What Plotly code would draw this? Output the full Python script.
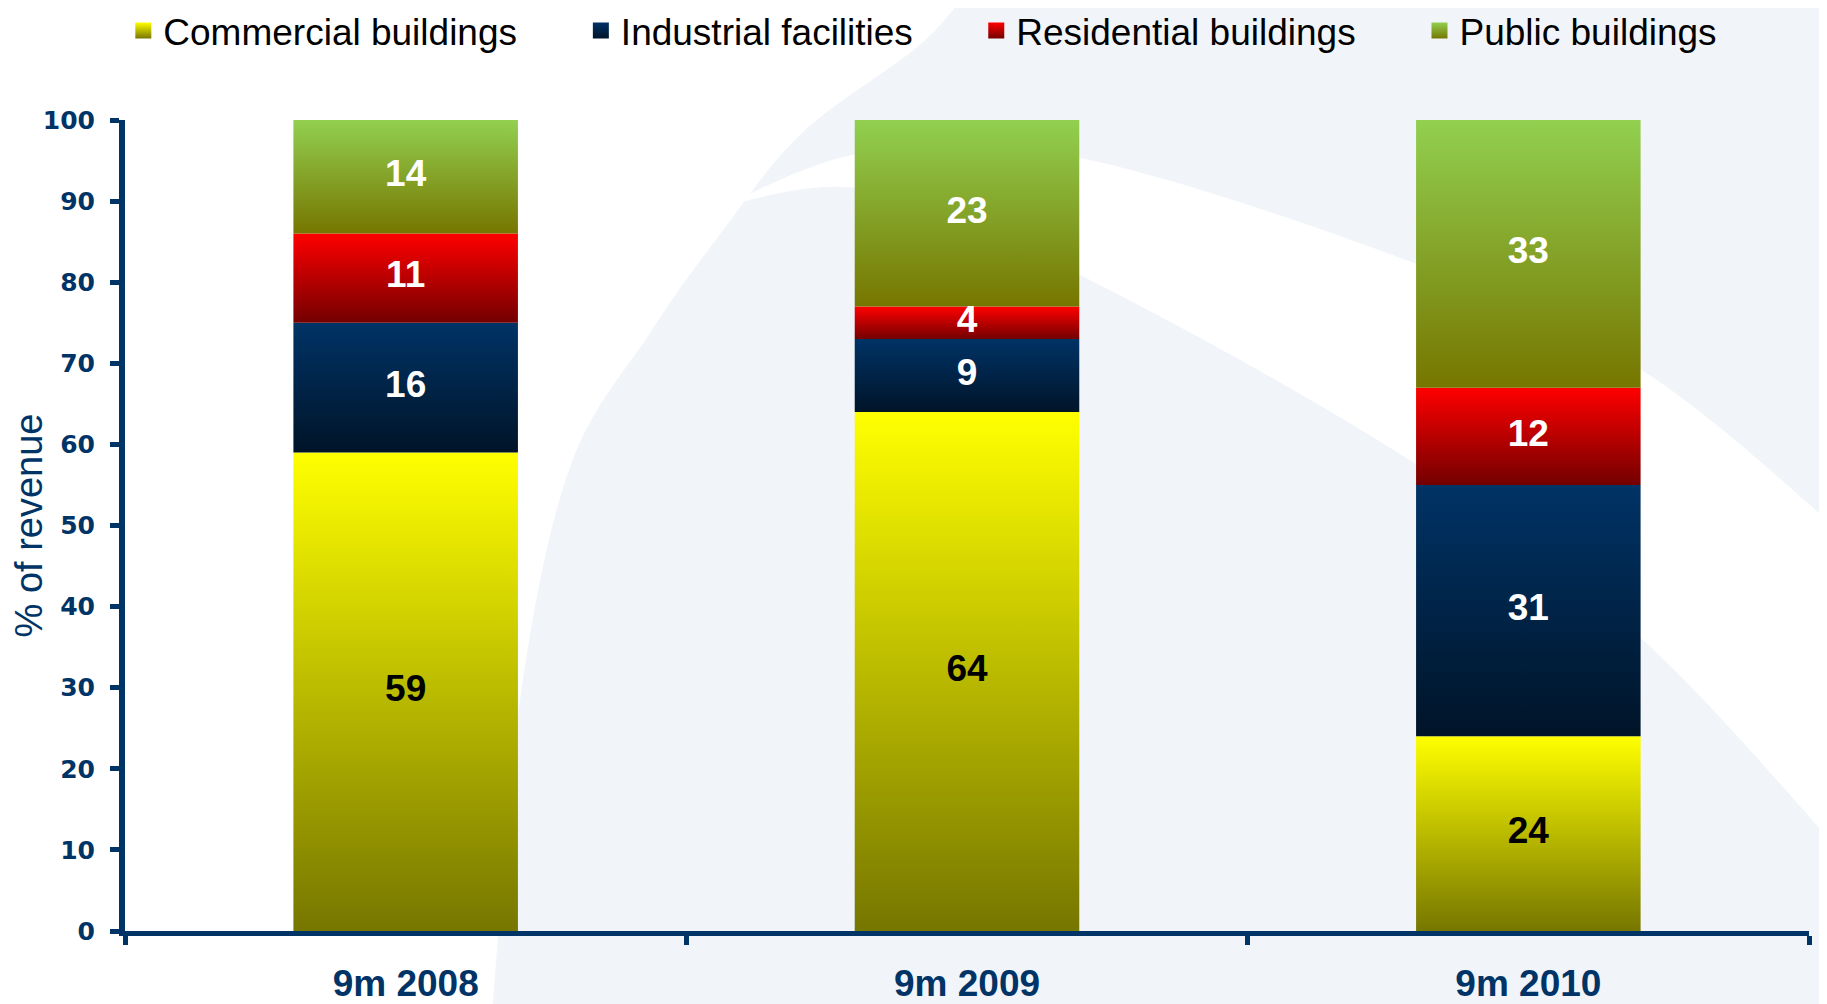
import plotly.graph_objects as go

categories = ["9m 2008", "9m 2009", "9m 2010"]
series_names = ["Commercial buildings", "Industrial facilities", "Residential buildings", "Public buildings"]
commercial = [59, 64, 24]
industrial = [16, 9, 31]
residential = [11, 4, 12]
public = [14, 23, 33]
y_ticks = list(range(0, 101, 10))

series_values = [commercial, industrial, residential, public]
# gradient colours: (bottom, top)
series_grad = [("#767600", "#ffff00"), ("#001428", "#003366"), ("#730000", "#ff0000"), ("#767600", "#92d050")]
label_colors = ["#000000", "#ffffff", "#ffffff", "#ffffff"]

NAVY = "#003366"
BAR_W = 0.4

fig = go.Figure()

# stacked bars drawn as gradient-filled polygons on a numeric axis
bases = [0] * len(categories)
label_x, label_y, label_t, label_c = [], [], [], []
for s, (name, vals) in enumerate(zip(series_names, series_values)):
    bot, top = series_grad[s]
    for i, v in enumerate(vals):
        b = bases[i]
        t = b + v
        fig.add_trace(go.Scatter(
            x=[i - BAR_W / 2, i + BAR_W / 2, i + BAR_W / 2, i - BAR_W / 2, i - BAR_W / 2],
            y=[b, b, t, t, b],
            mode="lines", fill="toself", line=dict(width=0),
            fillgradient=dict(type="vertical", colorscale=[[0, bot], [1, top]]),
            showlegend=False, hoverinfo="skip", xaxis="x", yaxis="y"))
        label_x.append(i)
        label_y.append(b + v / 2)
        label_t.append(str(v))
        label_c.append(label_colors[s])
        bases[i] = t

fig.add_trace(go.Scatter(
    x=label_x, y=label_y, text=label_t, mode="text", xaxis="x2", yaxis="y",
    textfont=dict(family="Liberation Sans, Arial", size=37, color=label_c, weight="bold"),
    showlegend=False, hoverinfo="skip"))

# legend entries (one legend per entry to reproduce spacing)
legend_x = [-0.001, 0.2707, 0.5055, 0.7687]
for s, name in enumerate(series_names):
    bot, top = series_grad[s]
    lg = "legend" if s == 0 else f"legend{s+1}"
    fig.add_trace(go.Scatter(
        x=[None], y=[None], mode="markers", name=name,
        marker=dict(symbol="square", size=16, color=top,
                    gradient=dict(type="vertical", color=bot)),
        legend=lg, showlegend=True))

legend_common = dict(orientation="h", yanchor="top", y=1.148, xanchor="left",
                     bgcolor="rgba(0,0,0,0)",
                     font=dict(family="Liberation Sans, Arial", size=37, color="#000000"))
for s in range(4):
    key = "legend" if s == 0 else f"legend{s+1}"
    fig.update_layout({key: dict(x=legend_x[s], **legend_common)})


# ---- background decoration (soft swoosh), page pixels -> paper coords ----
def to_paper(p):
    X, Y = p
    return ((X - 125) / 1684, (931 - Y) / 811)


def smooth_path(pts):
    """Catmull-Rom through pts converted to cubic bezier path (paper coords)."""
    P = [to_paper(p) for p in pts]
    d = f"M {P[0][0]:.4f},{P[0][1]:.4f}"
    for k in range(len(P) - 1):
        p0 = P[k - 1] if k > 0 else P[k]
        p1, p2 = P[k], P[k + 1]
        p3 = P[k + 2] if k + 2 < len(P) else P[k + 1]
        c1 = (p1[0] + (p2[0] - p0[0]) / 6, p1[1] + (p2[1] - p0[1]) / 6)
        c2 = (p2[0] - (p3[0] - p1[0]) / 6, p2[1] - (p3[1] - p1[1]) / 6)
        d += f" C {c1[0]:.4f},{c1[1]:.4f} {c2[0]:.4f},{c2[1]:.4f} {p2[0]:.4f},{p2[1]:.4f}"
    return d


grey_edge = [(975, -20), (922, 43), (802, 133), (721, 233), (650, 333), (570, 467),
             (520, 700), (492, 1015)]
grey_path = smooth_path(grey_edge)
for p in [(1840, 1015), (1840, -20)]:
    q = to_paper(p)
    grey_path += f" L {q[0]:.4f},{q[1]:.4f}"
grey_path += " Z"

band_upper = [(725, 205), (869, 152), (1080, 158), (1411, 262), (1643, 371), (1840, 531)]
band_lower = [(1840, 851), (1643, 640), (1411, 461), (1080, 275), (869, 190), (725, 205)]
band_path = smooth_path(band_upper)
lp = smooth_path(band_lower)
band_path += " L" + lp[1:] + " Z"

shapes = [
    dict(type="path", xref="paper", yref="paper", layer="below", path=grey_path,
         fillcolor="#f1f4f9", line=dict(width=0)),
    dict(type="path", xref="paper", yref="paper", layer="below", path=band_path,
         fillcolor="#ffffff", line=dict(width=0)),
]

fig.update_layout(
    width=1811, height=996,
    margin=dict(l=117, r=10, t=112, b=73, autoexpand=False),
    paper_bgcolor="#ffffff",
    plot_bgcolor="rgba(0,0,0,0)",
    shapes=shapes,
    xaxis=dict(range=[-0.5, 2.5], tickvals=[-0.5, 0.5, 1.5, 2.5], showticklabels=False,
               ticks="outside", ticklen=9, tickwidth=5, tickcolor=NAVY,
               showline=True, linewidth=5, linecolor=NAVY, automargin=False,
               showgrid=False, zeroline=False, fixedrange=True),
    xaxis2=dict(range=[-0.5, 2.5], overlaying="x", anchor="y", side="bottom",
                tickvals=[0, 1, 2], ticktext=categories, ticks="", automargin=False,
                showline=False, showgrid=False, zeroline=False,
                ticklabelstandoff=27,
                tickfont=dict(family="Liberation Sans, Arial", size=37, color=NAVY, weight="bold")),
    yaxis=dict(range=[0, 100], tickvals=y_ticks, ticks="outside", ticklen=9, tickwidth=5,
               tickcolor=NAVY, showline=True, linewidth=6, linecolor=NAVY, automargin=False,
               showgrid=False, zeroline=False, ticklabelstandoff=10,
               tickfont=dict(family="DejaVu Sans", size=25, color=NAVY, weight="bold"),
               title=dict(text="% of revenue", standoff=3,
                          font=dict(family="Liberation Sans, Arial", size=38, color=NAVY))),
)

fig.write_html("out.html")
